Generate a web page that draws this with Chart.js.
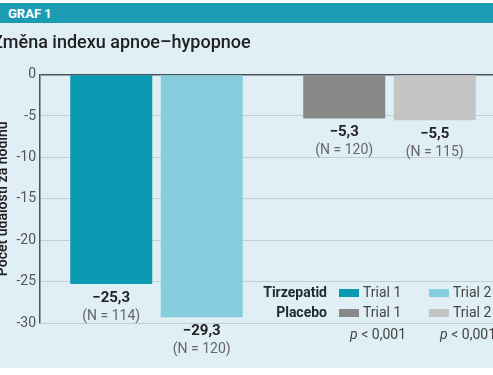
<!DOCTYPE html>
<html>
<head>
<meta charset="utf-8">
<script src="https://cdn.jsdelivr.net/npm/chart.js@4.4.0/dist/chart.umd.min.js"></script>
<style>
  html, body { margin: 0; padding: 0; width: 493px; height: 375px; overflow: hidden; background: #fff; }
  .head { position: absolute; left: 0; top: 3px; width: 493px; height: 20px; box-sizing: border-box; padding-left: 8px;
          background: #1b9cb3; color: #fff; font: bold 13px Roboto, sans-serif; line-height: 21px; }
  .panel { position: absolute; left: 0; top: 23px; width: 493px; height: 345px; background: #e0eff5; overflow: hidden; }
  .wrap { position: absolute; left: -8px; top: 0; }
</style>
</head>
<body>
<div class="head">GRAF 1</div>
<div class="panel">
  <div class="wrap"><canvas id="ahiChart" width="514" height="345"></canvas></div>
</div>
<script>
const chartTitle = 'Změna indexu apnoe–hypopnoe';
const axisTitle = 'Počet událostí za hodinu';
const groups = ['Tirzepatid', 'Placebo'];
const trials = ['Trial 1', 'Trial 2'];
const trial1Values = [-25.3, -5.3];
const trial2Values = [-29.3, -5.5];
const trial1N = [114, 120];
const trial2N = [120, 115];
const pValues = ['p < 0,001', 'p < 0,001'];
const yTicks = [0, -5, -10, -15, -20, -25, -30];

const font = 'Roboto, "Noto Sans", sans-serif';
const fmt = v => (v < 0 ? '\u2212' : '') + Math.abs(v).toFixed(1).replace('.', ',');

// labels under the bars + the legend block in the lower right
const labelPlugin = {
  id: 'labels',
  afterDatasetsDraw(chart) {
    const c = chart.ctx;
    const area = chart.chartArea;
    c.save();
    c.textAlign = 'center';
    c.textBaseline = 'middle';
    chart.data.datasets.forEach((ds, i) => {
      chart.getDatasetMeta(i).data.forEach((bar, j) => {
        c.fillStyle = '#222';
        c.font = 'bold 15px ' + font;
        c.fillText(fmt(ds.data[j]), bar.x, bar.y + 14);
        c.fillStyle = '#666';
        c.font = '14px ' + font;
        c.fillText('(N = ' + ds.n[j] + ')', bar.x, bar.y + 32);
      });
    });

    const left = area.left;
    const rows = [area.bottom - 30, area.bottom - 10];
    const colX = [left + 299, left + 389];
    groups.forEach((g, j) => {
      c.textAlign = 'right';
      c.fillStyle = '#1e2a30';
      c.font = 'bold 14px ' + font;
      c.fillText(g, left + 287, rows[j]);
      chart.data.datasets.forEach((ds, i) => {
        c.fillStyle = ds.backgroundColor[j];
        c.fillRect(colX[i], rows[j] - 4, 20, 8);
        c.textAlign = 'left';
        c.fillStyle = '#444';
        c.font = '14px ' + font;
        c.fillText(ds.label, colX[i] + 24, rows[j]);
      });
    });
    const pRight = [left + 366, left + 456];
    pValues.forEach((p, i) => {
      const rest = p.slice(1);
      c.font = '14px ' + font;
      const wRest = c.measureText(rest).width;
      c.textAlign = 'left';
      c.fillStyle = '#444';
      c.fillText(rest, pRight[i] - wRest, area.bottom + 12);
      c.font = 'italic 14px ' + font;
      const wP = c.measureText(p[0]).width;
      c.fillText(p[0], pRight[i] - wRest - wP, area.bottom + 12);
    });
    c.restore();
  }
};

new Chart(document.getElementById('ahiChart'), {
  type: 'bar',
  data: {
    labels: groups,
    datasets: [{
      label: trials[0],
      data: trial1Values,
      n: trial1N,
      backgroundColor: ['#0a9ab2', '#888888'],
      categoryPercentage: 0.777,
      barPercentage: 0.906
    }, {
      label: trials[1],
      data: trial2Values,
      n: trial2N,
      backgroundColor: ['#86cedd', '#c4c4c4'],
      categoryPercentage: 0.777,
      barPercentage: 0.906
    }]
  },
  options: {
    responsive: false,
    animation: false,
    layout: { padding: { left: 0, right: 0, top: 0, bottom: 45 } },
    plugins: {
      legend: { display: false },
      tooltip: { enabled: false },
      title: {
        display: true, text: chartTitle, align: 'start', color: '#222',
        font: { family: font, size: 18, weight: '500' },
        padding: { top: 10, bottom: 20 }
      }
    },
    scales: {
      x: { display: false },
      y: {
        min: Math.min(...yTicks), max: Math.max(...yTicks),
        afterBuildTicks: s => { s.ticks = yTicks.map(v => ({ value: v })); },
        afterFit: s => { s.width = 48; },
        ticks: { color: '#555', font: { family: font, size: 14 }, padding: 4 },
        grid: {
          drawTicks: false,
          color: ctx => ctx.tick && ctx.tick.value === 0 ? '#4b5258' : '#c3cdd2',
          lineWidth: ctx => ctx.tick && ctx.tick.value === 0 ? 1.5 : 1
        },
        border: { color: '#4b5258', width: 1.5 },
        title: {
          display: true, text: axisTitle, color: '#222',
          font: { family: font, size: 14, weight: '600' },
          padding: { top: 3, bottom: 0 }
        }
      }
    }
  },
  plugins: [labelPlugin]
});
</script>
</body>
</html>
